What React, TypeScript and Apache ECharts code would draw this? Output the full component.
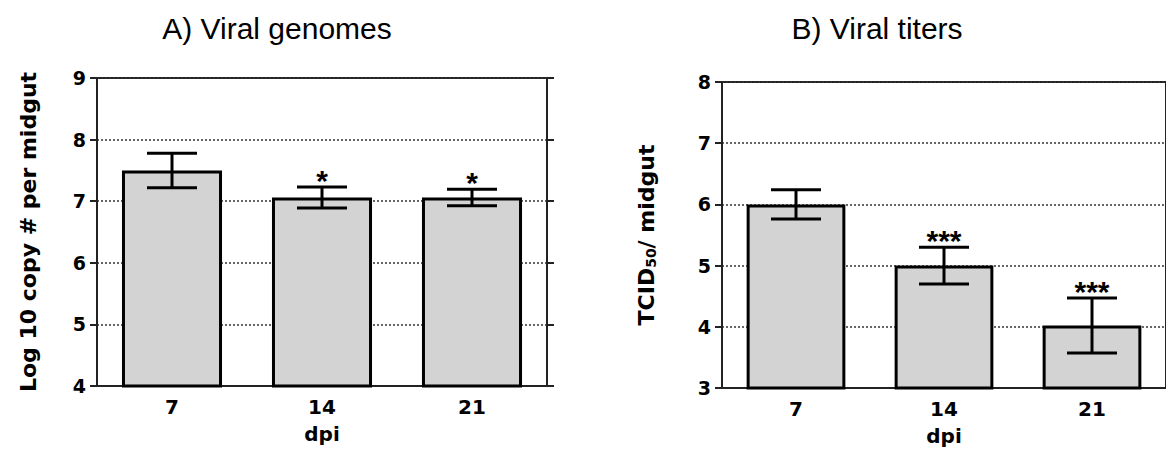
import React, { useEffect, useRef } from "react";
import * as echarts from "echarts";

// ---- data ----
const categories = ["7", "14", "21"];
const genomeMeans = [7.5, 7.06, 7.06];
const genomeErrors = [0.28, 0.17, 0.135];
const genomeSig = ["", "*", "*"];
const titerMeans = [6.0, 5.0, 4.02];
const titerErrors = [0.24, 0.3, 0.45];
const titerSig = ["", "***", "***"];
const genomeAxis = { min: 4, max: 9, interval: 1 };
const titerAxis = { min: 3, max: 8, interval: 1 };
const titleA = "A) Viral genomes";
const titleB = "B) Viral titers";
const yNameA = "Log 10 copy # per midgut";
const xName = "dpi";

const FONT = "DejaVu Sans";

function errorRenderer(sig: string[]) {
  return (params: any, api: any) => {
    const i = api.value(0);
    const m = api.value(1);
    const e = api.value(2);
    const hi = api.coord([i, m + e]);
    const lo = api.coord([i, m - e]);
    const cap = 25;
    const style = { stroke: "#000", lineWidth: 3 };
    const children: any[] = [
      { type: "line", shape: { x1: hi[0], y1: hi[1], x2: lo[0], y2: lo[1] }, style },
      { type: "line", shape: { x1: hi[0] - cap, y1: hi[1], x2: hi[0] + cap, y2: hi[1] }, style },
      { type: "line", shape: { x1: lo[0] - cap, y1: lo[1], x2: lo[0] + cap, y2: lo[1] }, style },
    ];
    const s = sig[params.dataIndex];
    if (s) {
      children.push({
        type: "text",
        x: hi[0],
        y: hi[1] + 8,
        style: {
          text: s,
          fill: "#000",
          font: 'bold 30px "Liberation Sans"',
          align: "center",
          verticalAlign: "bottom",
        },
      });
    }
    return { type: "group", children };
  };
}

function yAxisPair(gridIndex: number, range: any, name: any, nameGap: number, rich?: any) {
  const common = {
    gridIndex,
    type: "value",
    min: range.min,
    max: range.max,
    interval: range.interval,
    axisLine: { show: true, lineStyle: { color: "#222", width: 2 } },
    axisTick: { show: true, inside: false, length: 7, lineStyle: { color: "#222", width: 2 } },
  };
  return [
    {
      ...common,
      position: "left",
      name,
      nameLocation: "middle",
      nameRotate: 90,
      nameGap,
      nameTextStyle: {
        fontFamily: FONT,
        fontWeight: "bold",
        fontSize: 22,
        color: "#000",
        rich,
      },
      axisLabel: { fontFamily: FONT, fontWeight: "bold", fontSize: 19, color: "#000", margin: 11 },
      splitLine: { show: true, lineStyle: { type: [2, 2], color: "#333", width: 1.5 } },
    },
    {
      ...common,
      position: "right",
      axisLabel: { show: false },
      splitLine: { show: false },
    },
  ];
}

function xAxisFor(gridIndex: number) {
  return {
    gridIndex,
    type: "category",
    data: categories,
    axisLine: { show: true, lineStyle: { color: "#222", width: 2 } },
    axisTick: { show: false },
    axisLabel: { fontFamily: FONT, fontWeight: "bold", fontSize: 20, color: "#000", margin: 11 },
    name: xName,
    nameLocation: "middle",
    nameGap: 38,
    nameTextStyle: { fontFamily: FONT, fontWeight: "bold", fontSize: 20, color: "#000" },
  };
}

export default function App() {
  const ref = useRef<HTMLDivElement>(null);
  useEffect(() => {
    document.body.style.margin = "0";
    const chart = echarts.init(ref.current!, null, { renderer: "svg" });
    const rich = {
      a: { fontFamily: FONT, fontWeight: "bold", fontSize: 22, color: "#000" },
      b: { fontFamily: FONT, fontWeight: "bold", fontSize: 14, color: "#000", verticalAlign: "bottom", padding: [9, 0, 0, 0] },
    };
    chart.setOption({
      animation: false,
      backgroundColor: "#fff",
      title: [
        {
          text: titleA,
          left: 272,
          top: 8,
          textAlign: "center",
          textStyle: { fontFamily: "Liberation Sans", fontWeight: "normal", fontSize: 30, color: "#000" },
        },
        {
          text: titleB,
          left: 872,
          top: 8,
          textAlign: "center",
          textStyle: { fontFamily: "Liberation Sans", fontWeight: "normal", fontSize: 30, color: "#000" },
        },
      ],
      grid: [
        { left: 97, top: 78, width: 450, height: 308, show: true, borderColor: "#222", borderWidth: 2, backgroundColor: "transparent" },
        { left: 722, top: 82, width: 450, height: 308, show: true, borderColor: "#222", borderWidth: 2, backgroundColor: "transparent" },
      ],
      xAxis: [xAxisFor(0), xAxisFor(1)],
      yAxis: [
        ...yAxisPair(0, genomeAxis, yNameA, 58),
        ...yAxisPair(1, titerAxis, "{a|TCID}{b|50}{a|/ midgut}", 64, rich),
      ],
      series: [
        {
          type: "bar",
          xAxisIndex: 0,
          yAxisIndex: 0,
          data: genomeMeans,
          barWidth: "66.7%",
          itemStyle: { color: "#d3d3d3", borderColor: "#000", borderWidth: 3 },
        },
        {
          type: "custom",
          xAxisIndex: 0,
          yAxisIndex: 0,
          data: genomeMeans.map((m, i) => [i, m, genomeErrors[i]]),
          encode: { x: 0, y: 1 },
          renderItem: errorRenderer(genomeSig),
          z: 5,
        },
        {
          type: "bar",
          xAxisIndex: 1,
          yAxisIndex: 2,
          data: titerMeans,
          barWidth: "66.7%",
          itemStyle: { color: "#d3d3d3", borderColor: "#000", borderWidth: 3 },
        },
        {
          type: "custom",
          xAxisIndex: 1,
          yAxisIndex: 2,
          data: titerMeans.map((m, i) => [i, m, titerErrors[i]]),
          encode: { x: 0, y: 1 },
          renderItem: errorRenderer(titerSig),
          z: 5,
        },
      ],
    });
    return () => chart.dispose();
  }, []);
  return <div ref={ref} style={{ width: 1166, height: 451 }} />;
}
